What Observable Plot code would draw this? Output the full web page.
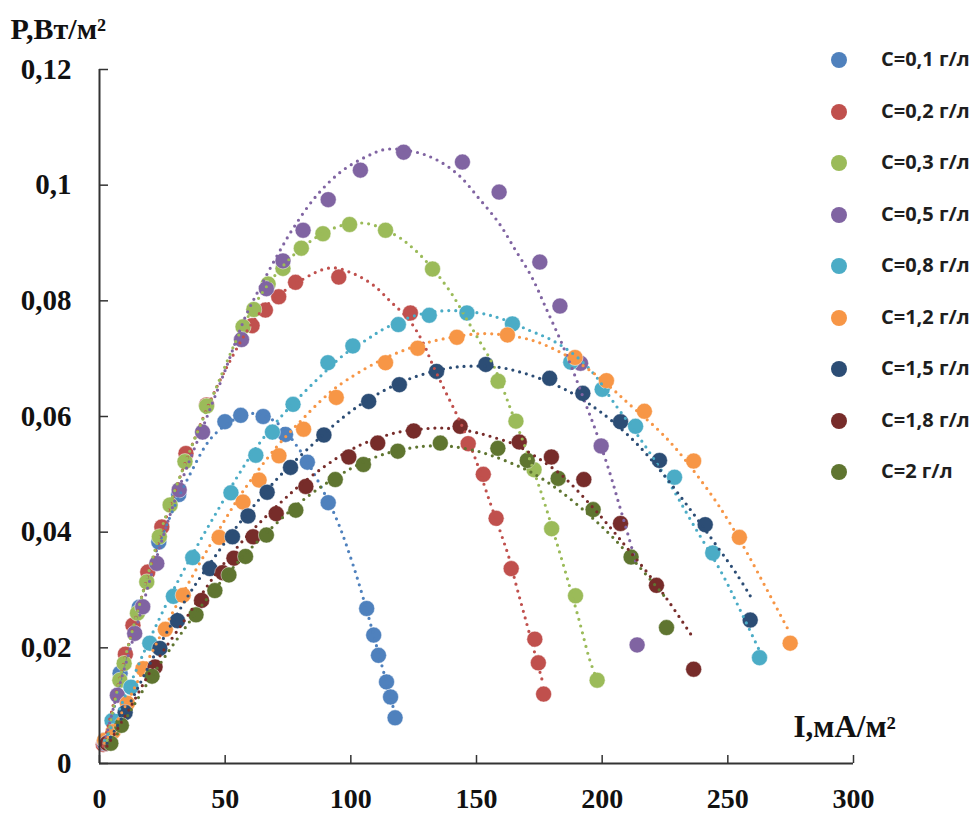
<!DOCTYPE html>
<html>
<head>
<meta charset="utf-8">
<script src="https://cdn.jsdelivr.net/npm/d3@7"></script>
<script src="https://cdn.jsdelivr.net/npm/@observablehq/plot@0.6"></script>
<style>
  body { margin: 0; background: #fff; }
  #wrap { position: relative; width: 975px; height: 817px; overflow: hidden; }
  #legend { position: absolute; left: 0; top: 0; width: 975px; height: 817px; pointer-events: none; }
  .lg-dot { position: absolute; width: 16px; height: 16px; border-radius: 50%; }
  .lg-txt { position: absolute; font-family: "Open Sans", sans-serif; font-weight: 700; font-size: 20px; color: #1e1e1e; line-height: 1; white-space: nowrap; }
</style>
</head>
<body>
<div id="wrap"></div>
<script>
// ---------- series ----------
const seriesLabels = ["C=0,1 г/л", "C=0,2 г/л", "C=0,3 г/л", "C=0,5 г/л", "C=0,8 г/л", "C=1,2 г/л", "C=1,5 г/л", "C=1,8 г/л", "C=2 г/л"];
const seriesColors = ["#4F81BD", "#C0504D", "#9BBB59", "#8064A2", "#4BACC6", "#F79646", "#2C4D75", "#772C2A", "#5F7530"];

// ---------- measured points [I, P] ----------
const pts01 = [[3,0.004],[8.2,0.0156],[15.8,0.027],[23.6,0.0383],[31.5,0.0465],[49.9,0.0591],[56.2,0.0602],[65.1,0.06],[74,0.0569],[82.7,0.0521],[91,0.0451],[106.3,0.0268],[109.1,0.0222],[111,0.0187],[114.2,0.0141],[115.8,0.0115],[117.6,0.0079]];
const pts02 = [[1.5,0.0033],[10.3,0.0189],[13.3,0.0239],[19.2,0.0331],[24.8,0.0409],[34.4,0.0536],[42.6,0.062],[60.7,0.0757],[66,0.0784],[71.3,0.0807],[78,0.0832],[95.2,0.0841],[123.7,0.0779],[146.7,0.0553],[152.7,0.05],[157.8,0.0424],[163.8,0.0337],[173.2,0.0215],[174.6,0.0174],[176.7,0.012]];
const pts03 = [[3,0.004],[8.1,0.0144],[9.8,0.0173],[15.1,0.026],[18.8,0.0314],[23.8,0.0392],[28.1,0.0447],[34,0.0522],[42.6,0.0618],[57.1,0.0755],[61.4,0.0785],[67.1,0.0829],[73,0.0856],[80.3,0.0891],[88.9,0.0916],[99.5,0.0932],[113.8,0.0922],[132.5,0.0855],[158.6,0.0661],[165.7,0.0592],[172.9,0.0508],[179.9,0.0406],[189.4,0.029],[198,0.0144]];
const pts05 = [[2,0.0035],[7.1,0.0118],[14,0.0225],[17.2,0.0271],[22.8,0.0346],[31.7,0.0473],[41,0.0573],[56.5,0.0733],[66.4,0.0821],[73,0.0869],[81,0.0922],[91,0.0975],[103.8,0.1026],[121,0.1057],[144.4,0.104],[159,0.0988],[175.2,0.0867],[183.2,0.0791],[191.4,0.0692],[199.6,0.0549],[213.9,0.0205]];
const pts08 = [[2,0.004],[5,0.0074],[12.5,0.0132],[20,0.0208],[29.4,0.0289],[37.1,0.0356],[52.3,0.0468],[62.2,0.0533],[68.8,0.0573],[77,0.0621],[90.9,0.0693],[100.8,0.0722],[118.9,0.0759],[131.2,0.0775],[146.2,0.0779],[164.3,0.076],[187.5,0.0694],[200,0.0647],[213.3,0.0583],[228.8,0.0495],[244,0.0364],[262.6,0.0183]];
const pts12 = [[2,0.004],[5.4,0.0055],[11.1,0.0104],[17.3,0.0164],[26.2,0.0232],[33.3,0.0291],[47.6,0.0391],[57.1,0.0452],[63.5,0.049],[71.4,0.0532],[81.2,0.0578],[94.2,0.0633],[113.8,0.0693],[126.6,0.0718],[142.2,0.0737],[162.3,0.0741],[189.2,0.0702],[201.7,0.0662],[216.8,0.0609],[236.4,0.0523],[254.6,0.0391],[274.8,0.0208]];
const pts15 = [[3,0.0035],[10.2,0.0088],[24,0.0199],[31,0.0247],[43.9,0.0337],[52.9,0.0392],[59.1,0.0428],[66.7,0.0469],[76,0.0512],[89.3,0.0568],[107.1,0.0626],[119.3,0.0655],[134.1,0.0678],[153.7,0.069],[179.1,0.0666],[192.3,0.064],[207.3,0.0591],[222.8,0.0524],[241,0.0413],[258.9,0.0248]];
const pts18 = [[3,0.0035],[22.1,0.0167],[40.6,0.0282],[49,0.033],[53.5,0.0355],[61.1,0.0392],[70.3,0.0432],[82.1,0.0479],[99.2,0.053],[110.7,0.0554],[125,0.0575],[143.5,0.0583],[167,0.0556],[179.8,0.053],[192.7,0.0491],[207.3,0.0415],[221.6,0.0308],[236.4,0.0163]];
const pts20 = [[4.5,0.0035],[8.7,0.0066],[20.9,0.0151],[38.4,0.0257],[45.9,0.0299],[51.5,0.0326],[58.1,0.0358],[66.4,0.0395],[78.1,0.0438],[93.8,0.0491],[105,0.0517],[118.7,0.054],[135.6,0.0554],[158.5,0.0545],[170.2,0.0524],[182.5,0.0493],[196.4,0.0439],[211.5,0.0357],[225.6,0.0235]];

// ---------- trend lines [I, P] ----------
const trend01 = [[3,0.004],[12,0.021],[22,0.036],[36,0.05],[46,0.057],[60,0.0605],[70,0.0591],[80,0.054],[85,0.0504],[94,0.0426],[100,0.0355],[105,0.0285],[113,0.0159],[117.6,0.0085]];
const trend02 = [[1.5,0.003],[10,0.018],[20,0.0335],[35,0.053],[50,0.068],[65,0.0785],[80,0.0835],[92,0.0857],[101,0.0847],[109,0.0827],[116,0.0798],[123,0.0768],[128.6,0.0729],[132.5,0.069],[138,0.064],[143.8,0.0588],[149.8,0.0524],[154.4,0.0464],[159.7,0.0398],[163,0.0355],[166,0.0305],[169.6,0.0248],[176.7,0.0135]];
const trend03 = [[3,0.004],[8,0.0145],[15,0.026],[25,0.041],[35,0.053],[45,0.0635],[57,0.0755],[67,0.0828],[80,0.089],[94,0.0927],[106,0.0934],[118,0.0913],[125,0.089],[132.5,0.0856],[140,0.0813],[146.4,0.0766],[151,0.0732],[157,0.0686],[164,0.0608],[170,0.054],[176,0.0465],[181,0.0395],[186,0.0322],[191,0.0245],[195,0.018],[197.5,0.015]];
const trend05 = [[2,0.0035],[7,0.012],[14,0.0225],[23,0.036],[32,0.048],[41,0.058],[50,0.068],[58,0.0772],[64,0.0824],[70.4,0.0876],[77,0.0925],[86,0.098],[96,0.1023],[106,0.1049],[114,0.1062],[126,0.1057],[134.5,0.1043],[143,0.1017],[151,0.0977],[159,0.0934],[165.6,0.0887],[172,0.0841],[178,0.0784],[184,0.0726],[189.4,0.0668],[193.4,0.0622],[197.4,0.0576],[203.3,0.0499],[206.6,0.045],[210,0.04],[213.9,0.034]];
const trend08 = [[2,0.004],[5,0.0065],[12,0.0135],[20,0.0215],[30,0.0305],[40,0.0385],[48,0.0445],[55,0.0497],[62.5,0.0547],[71.7,0.0597],[81,0.064],[89,0.0674],[97,0.0706],[106,0.0732],[113.4,0.0752],[126,0.0775],[138,0.0783],[151,0.0779],[160,0.0769],[171,0.0749],[180,0.0732],[189.4,0.0705],[197.4,0.067],[204,0.0628],[216,0.0556],[226,0.049],[236,0.0415],[248,0.0326],[255.6,0.0259],[262.6,0.0195]];
const trend12 = [[2,0.0035],[11,0.0105],[20,0.0185],[33.3,0.0295],[47,0.04],[57,0.047],[70,0.0545],[80,0.0592],[88,0.0627],[95,0.0653],[110,0.0693],[122,0.0716],[132.5,0.073],[148,0.0742],[156,0.0743],[172,0.0732],[185.5,0.0706],[196,0.0677],[204,0.0648],[210.6,0.0622],[222.5,0.0576],[230.4,0.0539],[243.7,0.0463],[251.6,0.041],[258.2,0.036],[266,0.0297],[274.8,0.0225]];
const trend15 = [[3,0.0035],[11,0.0095],[24,0.0205],[36,0.0295],[45,0.0352],[54.5,0.0409],[63.8,0.0458],[71.7,0.0497],[83.6,0.0547],[96.8,0.0598],[108.7,0.0634],[123.3,0.0665],[138,0.0683],[147,0.0687],[159,0.0685],[169.6,0.0674],[180.2,0.0657],[189.4,0.0637],[197.4,0.0614],[204,0.0592],[213.3,0.0555],[222.5,0.051],[234.4,0.0443],[246.3,0.0372],[253.6,0.0327],[258.9,0.029]];
const trend18 = [[3,0.003],[12,0.0095],[22,0.0172],[35,0.0255],[45,0.032],[55,0.0375],[63,0.0413],[73,0.0455],[80,0.0482],[89,0.0512],[97,0.0535],[105,0.0553],[118,0.0572],[130,0.0579],[137,0.058],[148,0.0574],[156,0.0565],[165,0.0552],[172,0.0535],[184,0.0498],[195,0.0449],[204,0.0404],[210.6,0.0369],[218.5,0.0327],[226.5,0.028],[235.5,0.0222]];
const trend20 = [[4.5,0.003],[9,0.0066],[21,0.0152],[38,0.0258],[46,0.0302],[52,0.0333],[58,0.0362],[66,0.0397],[78,0.0445],[88,0.0478],[96,0.05],[104,0.0519],[114,0.0536],[124.6,0.0546],[131,0.0549],[140.5,0.0548],[150.4,0.054],[156.3,0.0532],[164,0.0519],[172,0.0503],[183,0.0472],[195,0.0429],[204,0.0392],[214.6,0.0341],[225.6,0.0285]];

// ---------- axes ----------
const xTicks = [0, 50, 100, 150, 200, 250, 300];
const yTicks = [0, 0.02, 0.04, 0.06, 0.08, 0.1, 0.12];
const xTitle = "I,мА/м²";
const yTitle = "P,Вт/м²";

// ---------- build tables ----------
const pointSets = [pts01, pts02, pts03, pts05, pts08, pts12, pts15, pts18, pts20];
const trendSets = [trend01, trend02, trend03, trend05, trend08, trend12, trend15, trend18, trend20];
const points = pointSets.flatMap((arr, i) => arr.map(([x, y]) => ({x, y, s: seriesLabels[i]})));
const trends = trendSets.flatMap((arr, i) => arr.map(([x, y]) => ({x, y, s: seriesLabels[i]})));

const serif = "'Liberation Serif', 'Times New Roman', serif";
const commaFmt = d => String(d).replace(".", ",");

const chart = Plot.plot({
  width: 975,
  height: 817,
  marginLeft: 99,
  marginRight: 122,
  marginTop: 69,
  marginBottom: 54,
  x: {domain: [0, 300], label: null},
  y: {domain: [0, 0.12], label: null},
  color: {domain: seriesLabels, range: seriesColors},
  style: {fontFamily: serif, background: "#fff", color: "#111", overflow: "visible"},
  marks: [
    Plot.dot(points, {x: "x", y: "y", fill: "s", r: 8, stroke: "#fff", strokeWidth: 0.6, strokeOpacity: 0.8}),
    Plot.line(trends, {x: "x", y: "y", z: "s", stroke: "s", strokeWidth: 3.2, strokeDasharray: "0 7", strokeLinecap: "round", curve: "catmull-rom"}),
    Plot.ruleX([0], {stroke: "#333", strokeWidth: 2}),
    Plot.ruleY([0], {stroke: "#333", strokeWidth: 2}),
    Plot.axisX({ticks: xTicks, tickSize: -8, tickFormat: () => "", stroke: "#333", strokeWidth: 1.5}),
    Plot.axisY({ticks: yTicks, tickSize: -9, tickFormat: () => "", stroke: "#333", strokeWidth: 1.5}),
    Plot.axisX({ticks: xTicks, tickSize: 0, tickPadding: 25, tickFormat: commaFmt, fontSize: 28, fontWeight: "bold", fill: "#111"}),
    Plot.axisY({ticks: yTicks, tickSize: 0, tickPadding: 28, tickFormat: commaFmt, fontSize: 29, fontWeight: "bold", fill: "#111"}),
    Plot.text([yTitle], {text: d => d, frameAnchor: "top-left", dx: -89, dy: -40, textAnchor: "start", lineAnchor: "middle", fontSize: 30, fontWeight: "bold", fill: "#111"}),
    Plot.text([xTitle], {text: d => d, frameAnchor: "bottom-right", dx: -60, dy: -36, textAnchor: "start", lineAnchor: "middle", fontSize: 31, fontWeight: "bold", fill: "#111"})
  ]
});

const wrap = document.getElementById("wrap");
wrap.appendChild(chart);

// ---------- legend (right side, over the chart) ----------
const legend = document.createElement("div");
legend.id = "legend";
seriesLabels.forEach((lab, i) => {
  const cy = 60 + i * 51.5;
  const dot = document.createElement("div");
  dot.className = "lg-dot";
  dot.style.left = (839 - 8) + "px";
  dot.style.top = (cy - 8) + "px";
  dot.style.background = seriesColors[i];
  legend.appendChild(dot);
  const t = document.createElement("div");
  t.className = "lg-txt";
  t.style.left = "881px";
  t.style.top = (cy - 11) + "px";
  t.textContent = lab;
  legend.appendChild(t);
});
wrap.appendChild(legend);
</script>
</body>
</html>
